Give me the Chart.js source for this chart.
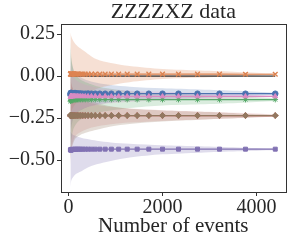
<!DOCTYPE html>
<html>
<head>
<meta charset="utf-8">
<script src="https://cdn.jsdelivr.net/npm/chart.js@4.4.1/dist/chart.umd.min.js"></script>
<style>
  html, body { margin: 0; padding: 0; background: #fff; }
  #wrap { width: 291px; height: 244px; }
</style>
</head>
<body>
<div id="wrap"><canvas id="grafico"></canvas></div>
<script>
// numero de eventos de cada punto
const events = [40, 47, 54, 63, 74, 87, 101, 119, 139, 162, 190, 222, 260, 304, 356, 416, 487,
  569, 666, 780, 912, 1067, 1249, 1461, 1709, 2000, 2340, 2745, 3213, 3766, 4400];

// medias de cada serie
const blueMean = [-0.11, -0.1, -0.104, -0.101, -0.103, -0.106, -0.104, -0.102, -0.101, -0.103, -0.104, -0.104,
  -0.104, -0.105, -0.105, -0.104, -0.105, -0.105, -0.105, -0.105, -0.105, -0.105, -0.105, -0.105, -0.105,
  -0.105, -0.105, -0.105, -0.105, -0.105, -0.105];
const orangeMean = [0.012, 0.015, 0.01, 0.013, 0.012, 0.014, 0.012, 0.013, 0.012, 0.012, 0.013, 0.012,
  0.012, 0.012, 0.012, 0.012, 0.012, 0.012, 0.012, 0.012, 0.012, 0.012, 0.012, 0.012, 0.012,
  0.012, 0.012, 0.012, 0.012, 0.011, 0.011];
const greenMean = [-0.15, -0.145, -0.142, -0.146, -0.14, -0.143, -0.141, -0.14, -0.142, -0.141, -0.14, -0.14,
  -0.14, -0.14, -0.14, -0.14, -0.14, -0.14, -0.14, -0.14, -0.14, -0.14, -0.14, -0.14, -0.14,
  -0.14, -0.14, -0.14, -0.14, -0.14, -0.14];
const redMean = [-0.238, -0.232, -0.236, -0.234, -0.236, -0.235, -0.234, -0.235, -0.235, -0.235, -0.235, -0.235,
  -0.235, -0.235, -0.235, -0.235, -0.235, -0.235, -0.235, -0.235, -0.235, -0.235, -0.235, -0.235, -0.235,
  -0.235, -0.235, -0.235, -0.235, -0.235, -0.235];
const purpleMean = [-0.44, -0.437, -0.442, -0.436, -0.438, -0.436, -0.437, -0.436, -0.435, -0.436, -0.435, -0.435,
  -0.435, -0.435, -0.435, -0.435, -0.435, -0.435, -0.435, -0.435, -0.435, -0.435, -0.435, -0.435, -0.435,
  -0.435, -0.435, -0.435, -0.435, -0.435, -0.435];
const brownMean = [-0.232, -0.238, -0.233, -0.236, -0.234, -0.235, -0.236, -0.234, -0.235, -0.235, -0.235, -0.235,
  -0.235, -0.235, -0.235, -0.235, -0.235, -0.235, -0.235, -0.235, -0.235, -0.235, -0.235, -0.235, -0.235,
  -0.235, -0.235, -0.235, -0.235, -0.235, -0.235];
const pinkMean = [-0.125, -0.118, -0.121, -0.119, -0.12, -0.122, -0.12, -0.119, -0.12, -0.12, -0.12, -0.12,
  -0.12, -0.12, -0.12, -0.12, -0.12, -0.12, -0.12, -0.12, -0.121, -0.121, -0.121, -0.121, -0.121,
  -0.121, -0.121, -0.121, -0.121, -0.121, -0.121];

// bandas (limite superior / inferior)
const bandEvents = [40, 60, 100, 150, 250, 400, 600, 900, 1300, 2000, 2800, 3600, 4400];
const blueHi = [0.175, 0.095, 0.045, 0.015, -0.005, -0.025, -0.04, -0.053, -0.063, -0.073, -0.08, -0.088, -0.099];
const blueLo = [-0.385, -0.305, -0.255, -0.225, -0.205, -0.185, -0.17, -0.157, -0.147, -0.137, -0.13, -0.122, -0.111];
const orangeHi = [0.26, 0.235, 0.21, 0.19, 0.165, 0.135, 0.1, 0.078, 0.06, 0.042, 0.033, 0.025, 0.016];
const orangeLo = [-0.236, -0.211, -0.186, -0.166, -0.141, -0.111, -0.076, -0.054, -0.036, -0.018, -0.009, -0.001, 0.008];
const greenHi = [0.21, 0.11, 0.04, 0.01, -0.02, -0.04, -0.06, -0.075, -0.09, -0.105, -0.112, -0.12, -0.132];
const greenLo = [-0.49, -0.39, -0.32, -0.29, -0.26, -0.24, -0.22, -0.205, -0.19, -0.175, -0.168, -0.16, -0.148];
const redHi = [0.065, -0.035, -0.085, -0.115, -0.135, -0.155, -0.17, -0.183, -0.193, -0.203, -0.211, -0.219, -0.229];
const redLo = [-0.535, -0.435, -0.385, -0.355, -0.335, -0.315, -0.3, -0.287, -0.277, -0.267, -0.259, -0.251, -0.241];
const purpleHi = [-0.33, -0.34, -0.35, -0.355, -0.365, -0.375, -0.385, -0.395, -0.403, -0.412, -0.418, -0.425, -0.432];
const purpleLo = [-0.66, -0.62, -0.6, -0.585, -0.57, -0.545, -0.525, -0.505, -0.485, -0.466, -0.456, -0.448, -0.44];
const brownHi = [0.0, -0.05, -0.08, -0.1, -0.12, -0.14, -0.16, -0.18, -0.195, -0.205, -0.213, -0.222, -0.23];
const brownLo = [-0.5, -0.44, -0.4, -0.37, -0.35, -0.335, -0.32, -0.3, -0.285, -0.27, -0.26, -0.25, -0.24];
const pinkHi = [0.08, 0.03, 0.0, -0.02, -0.04, -0.055, -0.068, -0.078, -0.086, -0.094, -0.1, -0.106, -0.115];
const pinkLo = [-0.32, -0.27, -0.24, -0.22, -0.2, -0.185, -0.172, -0.162, -0.154, -0.146, -0.14, -0.134, -0.125];

const zeroLine = [0, 0];
const zeroEvents = [40, 4400];

const yTicks = [-0.5, -0.25, 0, 0.25];
const xTicks = [0, 2000, 4000];

const serie = [
  { mean: blueMean, hi: blueHi, lo: blueLo, color: '#4C72B0', fill: 'rgba(76,114,176,0.22)', marker: 'circle', r: 2.8 },
  { mean: orangeMean, hi: orangeHi, lo: orangeLo, color: '#DD8452', fill: 'rgba(221,132,82,0.25)', marker: 'crossRot', r: 3.3 },
  { mean: greenMean, hi: greenHi, lo: greenLo, color: '#55A868', fill: 'rgba(85,168,104,0.22)', marker: 'star', r: 2.8 },
  { mean: redMean, hi: redHi, lo: redLo, color: '#C44E52', fill: 'rgba(196,78,82,0.16)', marker: 'cross', r: 3 },
  { mean: purpleMean, hi: purpleHi, lo: purpleLo, color: '#8172B3', fill: 'rgba(129,114,179,0.25)', marker: 'rect', r: 2.8 },
  { mean: brownMean, hi: brownHi, lo: brownLo, color: '#937860', fill: 'rgba(147,120,96,0.25)', marker: 'rectRot', r: 3 },
  { mean: pinkMean, hi: pinkHi, lo: pinkLo, color: '#DA8BC3', fill: 'rgba(218,139,195,0.22)', marker: 'triangle', r: 2.8 }
];

function pts(xs, ys) {
  return xs.map(function (x, i) { return { x: x, y: ys[i] }; });
}

var datasets = [];
// bandas (las ultimas series quedan encima, como en matplotlib)
serie.forEach(function (s, i) {
  var idx = datasets.length;
  datasets.push({
    data: pts(bandEvents, s.hi), showLine: true, borderWidth: 0, pointRadius: 0,
    backgroundColor: s.fill, fill: idx + 1, order: 3 + (6 - i) * 0.01, tension: 0.3
  });
  datasets.push({
    data: pts(bandEvents, s.lo), showLine: true, borderWidth: 0, pointRadius: 0,
    backgroundColor: s.fill, fill: false, order: 3 + (6 - i) * 0.01, tension: 0.3
  });
});
// linea en cero
datasets.push({
  data: pts(zeroEvents, zeroLine), showLine: true, borderColor: '#000', borderWidth: 1,
  pointRadius: 0, fill: false, order: 2
});
// medias con marcadores
serie.forEach(function (s, i) {
  datasets.push({
    data: pts(events, s.mean), showLine: true, borderColor: s.color, borderWidth: 1.2,
    pointStyle: s.marker, pointRadius: s.r, pointBackgroundColor: s.color, pointBorderColor: s.color,
    pointBorderWidth: s.marker === 'crossRot' || s.marker === 'cross' ? 1.4 : 1, fill: false,
    order: 1 + (6 - i) * 0.01
  });
});

// marco alrededor del area
const marco = {
  id: 'marco',
  afterDraw: function (chart) {
    const a = chart.chartArea, c = chart.ctx;
    c.save();
    c.strokeStyle = '#333';
    c.lineWidth = 1;
    c.strokeRect(Math.round(a.left) + 0.5, Math.round(a.top) + 0.5, Math.round(a.right - a.left), Math.round(a.bottom - a.top));
    c.restore();
  }
};

const fuente = 'Liberation Serif';
const ctx = document.getElementById('grafico').getContext('2d');
var chart = new Chart(ctx, {
  type: 'scatter',
  data: { datasets: datasets },
  plugins: [marco],
  options: {
    responsive: true,
    maintainAspectRatio: false,
    animation: false,
    layout: { padding: { left: 0, right: 5, top: 0, bottom: 0 } },
    plugins: {
      legend: { display: false },
      tooltip: { enabled: false }
    },
    scales: {
      x: {
        type: 'linear', min: -160, max: 4620,
        afterBuildTicks: function (axis) { axis.ticks = xTicks.map(function (v) { return { value: v }; }); },
        afterFit: function (axis) { axis.height = 52; },
        grid: { display: true, drawOnChartArea: false, drawTicks: true, tickLength: 4, color: '#333' },
        border: { display: false },
        ticks: { color: '#262626', font: { family: fuente, size: 20 }, padding: 0, maxRotation: 0,
          callback: function (v) { return String(v); } },
        title: { display: true, text: 'Number of events', color: '#262626',
          font: { family: fuente, size: 21 }, padding: { top: 0, bottom: 5 } }
      },
      // eje superior solo para el titulo, centrado sobre el area
      xTop: {
        type: 'linear', position: 'top', min: -160, max: 4620,
        afterFit: function (axis) { axis.height = 24; },
        grid: { display: false },
        border: { display: false },
        ticks: { display: false },
        title: { display: true, text: 'ZZZZXZ data', color: '#262626',
          font: { family: fuente, size: 22, lineHeight: 1.1 }, padding: { top: 0, bottom: 0 } }
      },
      y: {
        type: 'linear', min: -0.69, max: 0.31,
        afterBuildTicks: function (axis) { axis.ticks = yTicks.map(function (v) { return { value: v }; }); },
        afterFit: function (axis) { axis.width = 61; },
        grid: { display: true, drawOnChartArea: false, drawTicks: true, tickLength: 4, color: '#333' },
        border: { display: false },
        ticks: { color: '#262626', font: { family: fuente, size: 20 }, padding: 2,
          callback: function (v) { return (v < 0 ? '\u2212' : '') + Math.abs(v).toFixed(2); } }
      }
    }
  }
});
</script>
</body>
</html>
